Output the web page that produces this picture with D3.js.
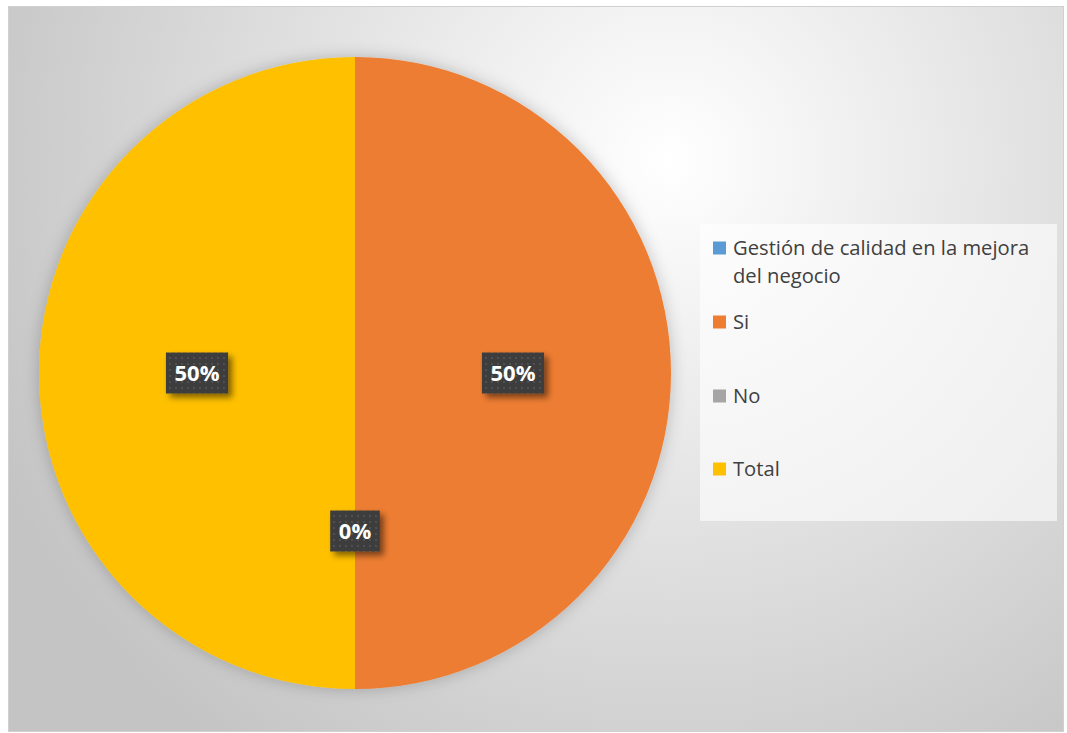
<!DOCTYPE html>
<html>
<head>
<meta charset="utf-8">
<script src="https://cdn.jsdelivr.net/npm/d3@7"></script>
<style>
  body { margin: 0; background: #fff; }
  svg { display: block; }
</style>
</head>
<body>
<svg id="chart" width="1067" height="733"></svg>
<script>
// datos del gráfico
const categories = ["Gestión de calidad en la mejora del negocio", "Si", "No", "Total"];
const values = [null, 50, 0, 50];
const colors = ["#5b9bd5", "#ed7d31", "#a5a5a5", "#ffc000"];

const width = 1067, height = 733;
const cx = 355, cy = 373, radius = 316;

const svg = d3.select("#chart");
const defs = svg.append("defs");

// fondo con degradado radial
const grad = defs.append("radialGradient")
  .attr("id", "bg")
  .attr("gradientUnits", "userSpaceOnUse")
  .attr("cx", 670).attr("cy", 160).attr("r", 740);
grad.append("stop").attr("offset", "0%").attr("stop-color", "#ffffff");
grad.append("stop").attr("offset", "100%").attr("stop-color", "#c4c4c4");

// sombra de la tarta
const glow = defs.append("filter").attr("id", "pieShadow")
  .attr("x", "-20%").attr("y", "-20%").attr("width", "140%").attr("height", "140%");
glow.append("feGaussianBlur").attr("in", "SourceAlpha").attr("stdDeviation", 8).attr("result", "b");
glow.append("feFlood").attr("flood-color", "#000").attr("flood-opacity", 0.22);
glow.append("feComposite").attr("in2", "b").attr("operator", "in").attr("result", "s");
const gm = glow.append("feMerge");
gm.append("feMergeNode").attr("in", "s");
gm.append("feMergeNode").attr("in", "SourceGraphic");

// sombra de las etiquetas
const lblShadow = defs.append("filter").attr("id", "lblShadow")
  .attr("x", "-30%").attr("y", "-30%").attr("width", "170%").attr("height", "170%");
lblShadow.append("feGaussianBlur").attr("in", "SourceAlpha").attr("stdDeviation", 3).attr("result", "b");
lblShadow.append("feOffset").attr("dx", 4).attr("dy", 4).attr("result", "o");
lblShadow.append("feComponentTransfer").append("feFuncA").attr("type", "linear").attr("slope", 0.5);
const lm = lblShadow.append("feMerge");
lm.append("feMergeNode");
lm.append("feMergeNode").attr("in", "SourceGraphic");

// patrón punteado de las etiquetas
const pat = defs.append("pattern").attr("id", "dots")
  .attr("patternUnits", "userSpaceOnUse").attr("width", 6).attr("height", 6);
pat.append("rect").attr("width", 6).attr("height", 6).attr("fill", "#3d3d3d");
pat.append("circle").attr("cx", 3).attr("cy", 3).attr("r", 1.1).attr("fill", "#555");

svg.append("rect")
  .attr("x", 8.5).attr("y", 6.5).attr("width", 1055).attr("height", 725)
  .attr("fill", "url(#bg)")
  .attr("stroke", "#d0d0d0").attr("stroke-width", 1);

const data = categories.map((c, i) => ({ name: c, value: values[i], color: colors[i] }));

const pie = d3.pie().sort(null).value(d => d.value || 0);
const arc = d3.arc().innerRadius(0).outerRadius(radius);
const arcs = pie(data);

const g = svg.append("g").attr("transform", `translate(${cx},${cy})`);

g.append("g").attr("filter", "url(#pieShadow)")
  .selectAll("path")
  .data(arcs)
  .enter()
  .append("path")
  .attr("d", arc)
  .attr("fill", d => d.data.color);

// etiquetas de porcentaje
const total = d3.sum(data, d => d.value || 0);

arcs.filter(d => d.data.value !== null).forEach(d => {
  const [x, y] = arc.centroid(d);
  const txt = d3.format(".0%")(d.data.value / total);
  const lg = g.append("g").attr("transform", `translate(${x},${y})`);
  const t = lg.append("text")
    .attr("text-anchor", "middle")
    .attr("dy", "0.36em")
    .attr("font-family", "'Open Sans', sans-serif")
    .attr("font-weight", "bold")
    .attr("font-size", 22)
    .attr("fill", "#fff")
    .text(txt);
  const bb = t.node().getBBox();
  const w = bb.width + 17, h = 41;
  lg.insert("rect", "text")
    .attr("x", -w / 2).attr("y", -h / 2)
    .attr("width", w).attr("height", h)
    .attr("fill", "url(#dots)")
    .attr("filter", "url(#lblShadow)");
});

// leyenda
const legend = svg.append("g");
legend.append("rect")
  .attr("x", 700).attr("y", 224).attr("width", 357).attr("height", 297)
  .attr("fill", "#fff").attr("fill-opacity", 0.6);

const legendY = [248, 322, 396, 469];
const wrapAt = { 0: ["Gestión de calidad en la mejora", "del negocio"] };

data.forEach((d, i) => {
  const y = legendY[i];
  legend.append("rect")
    .attr("x", 713).attr("y", y - 6.5).attr("width", 13).attr("height", 13)
    .attr("fill", d.color);
  const lines = wrapAt[i] || [d.name];
  const t = legend.append("text")
    .attr("x", 733).attr("y", y)
    .attr("font-family", "'Open Sans', sans-serif")
    .attr("font-size", 20.2)
    .attr("fill", "#404040");
  lines.forEach((ln, k) => {
    t.append("tspan").attr("x", 733).attr("dy", k === 0 ? "0.36em" : 28).text(ln);
  });
});
</script>
</body>
</html>
